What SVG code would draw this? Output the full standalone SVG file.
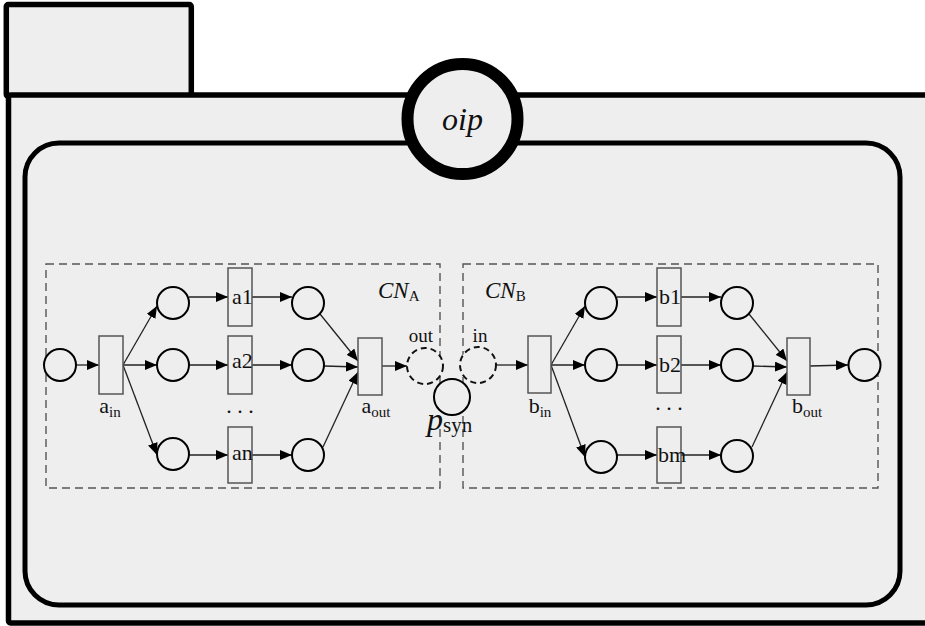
<svg xmlns="http://www.w3.org/2000/svg" width="925" height="626" viewBox="0 0 925 626">
<defs>
<marker id="arr" markerUnits="userSpaceOnUse" markerWidth="12" markerHeight="10" refX="12" refY="5" orient="auto">
<path d="M0,0 L12,5 L0,10 z" fill="#000"/>
</marker>
</defs>
<style>
.frame{fill:#eeeeee;stroke:#000;stroke-width:5.5}
.inner{fill:#eeeeee;stroke:#000;stroke-width:5}
.box{fill:none;stroke:#555;stroke-width:1.4;stroke-dasharray:8 5}
.pl{fill:#eeeeee;stroke:#000;stroke-width:2}
.dpl{fill:#eeeeee;stroke:#111;stroke-width:2;stroke-dasharray:6 4}
.tr{fill:#eeeeee;stroke:#555;stroke-width:1.5}
.e{fill:none;stroke:#222;stroke-width:1.3;marker-end:url(#arr)}
.t{font-family:'Liberation Serif','DejaVu Serif',serif;fill:#111}
.lbl{font-size:22px}
.it{font-style:italic}
.sub{font-size:15px}
</style>
<rect width="925" height="626" fill="#ffffff"/>
<g id="frame">
<rect class="frame" x="6.3" y="4.5" width="185" height="92" rx="2"/>
<rect class="frame" x="8.5" y="95" width="930" height="528" rx="2"/>
<rect class="inner" x="25" y="143" width="875" height="462" rx="34"/>
</g>
<g id="oip">
<circle cx="462.5" cy="119" r="55" fill="#eeeeee" stroke="#000" stroke-width="12"/>
<text class="t it" x="462.5" y="130" text-anchor="middle" font-size="32" font-family="Liberation Serif, serif">oip</text>
</g>
<g id="CNA">
<rect class="box" x="46" y="264" width="394" height="224"/>
<text class="t" x="378" y="298" font-size="23" font-family="Liberation Serif, serif"><tspan class="it">CN</tspan><tspan font-size="15" dy="3">A</tspan></text>
</g>
<g id="CNB">
<rect class="box" x="463" y="264" width="415" height="224"/>
<text class="t" x="485" y="298" font-size="23" font-family="Liberation Serif, serif"><tspan class="it">CN</tspan><tspan font-size="15" dy="3">B</tspan></text>
</g>
<g id="connectors">
<line class="e" x1="76" y1="365" x2="99" y2="365"/>
<line class="e" x1="123" y1="365" x2="157" y2="306"/>
<line class="e" x1="123" y1="365" x2="157" y2="365"/>
<line class="e" x1="123" y1="365" x2="157" y2="455"/>
<line class="e" x1="189" y1="297" x2="228" y2="297"/>
<line class="e" x1="189" y1="365" x2="228" y2="365"/>
<line class="e" x1="189" y1="455" x2="228" y2="455"/>
<line class="e" x1="252" y1="297" x2="292" y2="297"/>
<line class="e" x1="252" y1="365" x2="292" y2="365"/>
<line class="e" x1="252" y1="455" x2="292" y2="455"/>
<line class="e" x1="320" y1="314" x2="358" y2="361"/>
<line class="e" x1="324" y1="366" x2="358" y2="367"/>
<line class="e" x1="323" y1="447" x2="358" y2="372"/>
<line class="e" x1="382" y1="366" x2="407" y2="366"/>
<line class="e" x1="496" y1="365" x2="528" y2="365"/>
<line class="e" x1="551" y1="365" x2="585" y2="306"/>
<line class="e" x1="551" y1="365" x2="585" y2="365"/>
<line class="e" x1="551" y1="365" x2="585" y2="457"/>
<line class="e" x1="617" y1="297" x2="657" y2="297"/>
<line class="e" x1="617" y1="365" x2="657" y2="365"/>
<line class="e" x1="617" y1="455" x2="657" y2="455"/>
<line class="e" x1="681" y1="297" x2="721" y2="297"/>
<line class="e" x1="681" y1="365" x2="721" y2="365"/>
<line class="e" x1="681" y1="455" x2="721" y2="455"/>
<line class="e" x1="749" y1="314" x2="787" y2="361"/>
<line class="e" x1="753" y1="366" x2="787" y2="367"/>
<line class="e" x1="752" y1="447" x2="787" y2="372"/>
<line class="e" x1="810" y1="366" x2="848" y2="365"/>
</g>
<g id="pa_start"><circle class="pl" cx="60" cy="365" r="16"/></g>
<g id="a_in"><rect class="tr" x="99" y="336" width="24" height="58"/>
<text class="t lbl" font-family="Liberation Serif, serif" x="110" y="413" text-anchor="middle">a<tspan class="sub" dy="4">in</tspan></text></g>
<g id="pa1"><circle class="pl" cx="173" cy="303" r="16"/></g>
<g id="pa2"><circle class="pl" cx="173" cy="365" r="16"/></g>
<g id="pan"><circle class="pl" cx="173" cy="454" r="16"/></g>
<g id="a1"><rect class="tr" x="228" y="268" width="24" height="58"/><text class="t lbl" font-family="Liberation Serif, serif" x="232" y="304">a1</text></g>
<g id="a2"><rect class="tr" x="228" y="336" width="24" height="58"/><text class="t lbl" font-family="Liberation Serif, serif" x="232" y="368">a2</text></g>
<g id="an"><rect class="tr" x="228" y="427" width="24" height="56"/><text class="t lbl" font-family="Liberation Serif, serif" x="232" y="460">an</text></g>
<text class="t lbl" font-family="Liberation Serif, serif" x="240" y="413" text-anchor="middle">. . .</text>
<g id="qa1"><circle class="pl" cx="308" cy="303" r="16"/></g>
<g id="qa2"><circle class="pl" cx="308" cy="365" r="16"/></g>
<g id="qan"><circle class="pl" cx="308" cy="455" r="16"/></g>
<g id="a_out"><rect class="tr" x="358" y="338" width="24" height="57"/>
<text class="t lbl" font-family="Liberation Serif, serif" x="376" y="413" text-anchor="middle">a<tspan class="sub" dy="4">out</tspan></text></g>
<g id="out"><circle class="dpl" cx="425" cy="366" r="18"/><text class="t" font-family="Liberation Serif, serif" x="421" y="342" font-size="19" text-anchor="middle">out</text></g>
<g id="in"><circle class="dpl" cx="478" cy="365" r="18"/><text class="t" font-family="Liberation Serif, serif" x="480" y="342" font-size="19" text-anchor="middle">in</text></g>
<g id="psyn"><circle class="pl" cx="452" cy="397" r="18"/>
<text class="t" font-family="Liberation Serif, serif" x="427" y="430" font-size="32"><tspan class="it">p</tspan><tspan font-size="21" dy="2">syn</tspan></text></g>
<g id="b_in"><rect class="tr" x="528" y="336" width="23" height="57"/>
<text class="t lbl" font-family="Liberation Serif, serif" x="540" y="413" text-anchor="middle">b<tspan class="sub" dy="4">in</tspan></text></g>
<g id="pb1"><circle class="pl" cx="601" cy="303" r="16"/></g>
<g id="pb2"><circle class="pl" cx="601" cy="365" r="16"/></g>
<g id="pbm"><circle class="pl" cx="601" cy="457" r="16"/></g>
<g id="b1"><rect class="tr" x="657" y="268" width="24" height="58"/><text class="t lbl" font-family="Liberation Serif, serif" x="659" y="304">b1</text></g>
<g id="b2"><rect class="tr" x="657" y="336" width="24" height="57"/><text class="t lbl" font-family="Liberation Serif, serif" x="659" y="372">b2</text></g>
<g id="bm"><rect class="tr" x="657" y="427" width="24" height="56"/><text class="t lbl" font-family="Liberation Serif, serif" x="658" y="462">bm</text></g>
<text class="t lbl" font-family="Liberation Serif, serif" x="669" y="410" text-anchor="middle">. . .</text>
<g id="qb1"><circle class="pl" cx="737" cy="303" r="16"/></g>
<g id="qb2"><circle class="pl" cx="737" cy="365" r="16"/></g>
<g id="qbm"><circle class="pl" cx="737" cy="456" r="16"/></g>
<g id="b_out"><rect class="tr" x="787" y="338" width="23" height="57"/>
<text class="t lbl" font-family="Liberation Serif, serif" x="807" y="413" text-anchor="middle">b<tspan class="sub" dy="4">out</tspan></text></g>
<g id="pb_end"><circle class="pl" cx="864.5" cy="365" r="16"/></g>
</svg>
